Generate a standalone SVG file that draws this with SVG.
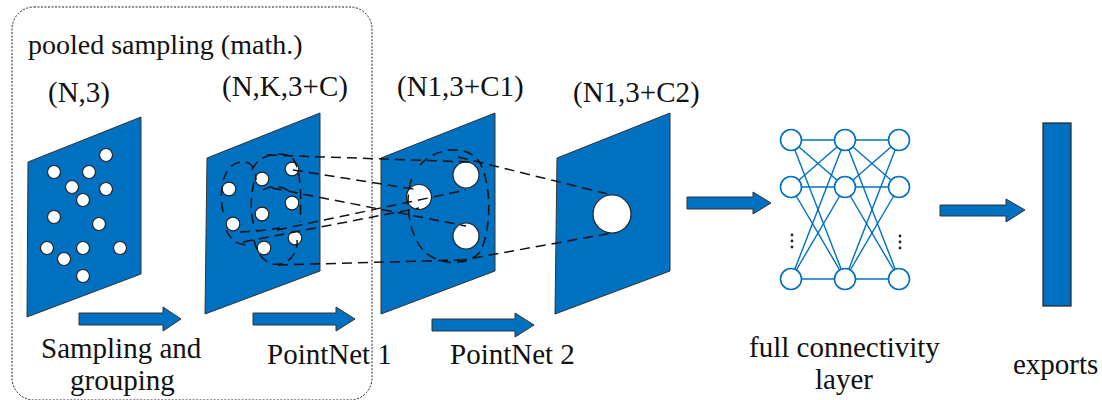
<svg xmlns="http://www.w3.org/2000/svg" width="1102" height="400" viewBox="0 0 1102 400">
<style>
text{font-family:"Liberation Serif","Times New Roman","DejaVu Serif",serif;font-size:29px;fill:#111}
.plane{fill:#0070C0;stroke:#333;stroke-width:1}
.arrow{fill:#0070C0;stroke:#333;stroke-width:1}
.pt{fill:#fff;stroke:#222;stroke-width:1.2}
.dash{fill:none;stroke:#111;stroke-width:1.5;stroke-dasharray:10 6}
.nn{fill:#fff;stroke:#0070C0;stroke-width:1.6}
.nl{stroke:#0070C0;stroke-width:1.4}
</style>
<rect id="group-box" x="12" y="7" width="360" height="393" rx="22" fill="none" stroke="#222" stroke-width="1" stroke-dasharray="2 1.5"/>
<text x="28" y="54" style="font-size:28px">pooled sampling (math.)</text>

<g id="plane1">
<polygon class="plane" points="28,162 141,117 141,274 27,317"/>
<circle class="pt" cx="106" cy="155" r="6.5"/><circle class="pt" cx="54" cy="172" r="6.5"/>
<circle class="pt" cx="89" cy="172" r="6.5"/><circle class="pt" cx="72" cy="187" r="6.5"/>
<circle class="pt" cx="106" cy="189" r="6.5"/><circle class="pt" cx="83" cy="200" r="6.5"/>
<circle class="pt" cx="54" cy="217" r="6.5"/><circle class="pt" cx="99" cy="224" r="6.5"/>
<circle class="pt" cx="47" cy="248" r="6.5"/><circle class="pt" cx="83" cy="248" r="6.5"/>
<circle class="pt" cx="120" cy="248" r="6.5"/><circle class="pt" cx="64" cy="259" r="6.5"/>
<circle class="pt" cx="83" cy="276" r="6.5"/>
<text x="48" y="102">(N,3)</text>
</g>

<g id="plane2">
<polygon class="plane" points="207,158 320,113 320,271 205,314"/>
<circle class="pt" cx="229" cy="189" r="6.8"/><circle class="pt" cx="262" cy="179" r="6.8"/>
<circle class="pt" cx="292" cy="169" r="6.8"/><circle class="pt" cx="262" cy="214" r="6.8"/>
<circle class="pt" cx="292" cy="203" r="6.8"/><circle class="pt" cx="233" cy="224" r="6.8"/>
<circle class="pt" cx="295" cy="238" r="6.8"/><circle class="pt" cx="264" cy="248" r="6.8"/>
<path class="dash" d="M223,212 C218,185 225,165 240,162 C250,160 256,168 256,180"/>
<path class="dash" d="M226,230 C232,242 240,246 248,244"/>
<path class="dash" d="M252,170 C258,156 275,151 290,156 C300,162 302,190 300,222"/>
<path class="dash" d="M254,182 C250,200 250,218 256,230"/>
<path class="dash" d="M263,190 C272,184 285,186 292,194"/>
<path class="dash" d="M254,240 C258,258 268,266 280,264 C292,262 298,250 297,240"/>
<path class="dash" d="M240,232 C250,232 268,230 280,228"/>
<text x="222" y="96">(N,K,3+C)</text>
</g>

<g id="plane3">
<polygon class="plane" points="381,158 495,113 495,271 381,314"/>
<circle class="pt" cx="419" cy="197" r="12.5"/>
<circle class="pt" cx="466" cy="175" r="13"/>
<circle class="pt" cx="466" cy="236" r="13"/>
<path class="dash" d="M420,165 C435,148 465,144 478,160 C492,180 492,230 480,252 C468,266 440,266 425,252 C408,236 404,198 412,178"/>
<text x="397" y="96">(N1,3+C1)</text>
</g>

<g id="plane4">
<polygon class="plane" points="557,158 670,113 670,271 555,314"/>
<circle class="pt" cx="612" cy="214" r="19"/>
<text x="573" y="102">(N1,3+C2)</text>
</g>

<g id="connectors">
<line class="dash" x1="267" y1="155" x2="470" y2="162"/>
<line class="dash" x1="293" y1="170" x2="419" y2="190"/>
<line class="dash" x1="272" y1="188" x2="466" y2="226"/>
<line class="dash" x1="277" y1="230" x2="466" y2="190"/>
<line class="dash" x1="243" y1="242" x2="419" y2="208"/>
<line class="dash" x1="278" y1="265" x2="460" y2="260"/>
<line class="dash" x1="458" y1="157" x2="612" y2="195"/>
<line class="dash" x1="457" y1="261" x2="612" y2="233"/>
<polygon class="arrow" points="79,313 163,313 163,307 181,319 163,331 163,325 79,325"/>
<polygon class="arrow" points="253,313 336,313 336,307 355,319 336,331 336,325 253,325"/>
<polygon class="arrow" points="432,319 515,319 515,313 534,325 515,337 515,331 432,331"/>
<polygon class="arrow" points="687,197 753,197 753,192 771,203 753,214 753,209 687,209"/>
<polygon class="arrow" points="940,205 1006,205 1006,199 1025,210 1006,222 1006,216 940,216"/>
</g>

<g id="fc-layer">
<g class="nl">
<line x1="791" y1="140" x2="845" y2="140"/><line x1="791" y1="140" x2="845" y2="187"/><line x1="791" y1="140" x2="845" y2="279"/>
<line x1="791" y1="187" x2="845" y2="140"/><line x1="791" y1="187" x2="845" y2="187"/><line x1="791" y1="187" x2="845" y2="279"/>
<line x1="791" y1="279" x2="845" y2="140"/><line x1="791" y1="279" x2="845" y2="187"/><line x1="791" y1="279" x2="845" y2="279"/>
<line x1="845" y1="140" x2="899" y2="140"/><line x1="845" y1="140" x2="899" y2="187"/><line x1="845" y1="140" x2="899" y2="279"/>
<line x1="845" y1="187" x2="899" y2="140"/><line x1="845" y1="187" x2="899" y2="187"/><line x1="845" y1="187" x2="899" y2="279"/>
<line x1="845" y1="279" x2="899" y2="140"/><line x1="845" y1="279" x2="899" y2="187"/><line x1="845" y1="279" x2="899" y2="279"/>
</g>
<circle class="nn" cx="791" cy="140" r="10.5"/><circle class="nn" cx="845" cy="140" r="10.5"/><circle class="nn" cx="899" cy="140" r="10.5"/>
<circle class="nn" cx="791" cy="187" r="10.5"/><circle class="nn" cx="845" cy="187" r="10.5"/><circle class="nn" cx="899" cy="187" r="10.5"/>
<circle class="nn" cx="791" cy="279" r="10.5"/><circle class="nn" cx="845" cy="279" r="10.5"/><circle class="nn" cx="899" cy="279" r="10.5"/>
<g fill="#222">
<circle cx="792" cy="235" r="1.4"/><circle cx="792" cy="241" r="1.4"/><circle cx="792" cy="247" r="1.4"/>
<circle cx="900" cy="236" r="1.4"/><circle cx="900" cy="242" r="1.4"/><circle cx="900" cy="248" r="1.4"/>
</g>
</g>

<g id="exports">
<rect x="1043" y="123" width="28" height="183" fill="#0070C0" stroke="#222" stroke-width="1.2"/>
</g>

<g id="labels">
<text x="41" y="358">Sampling and</text>
<text x="70" y="390">grouping</text>
<text x="267" y="364">PointNet 1</text>
<text x="450" y="364">PointNet 2</text>
<text x="749" y="357">full connectivity</text>
<text x="815" y="389">layer</text>
<text x="1013" y="374">exports</text>
</g>
</svg>
